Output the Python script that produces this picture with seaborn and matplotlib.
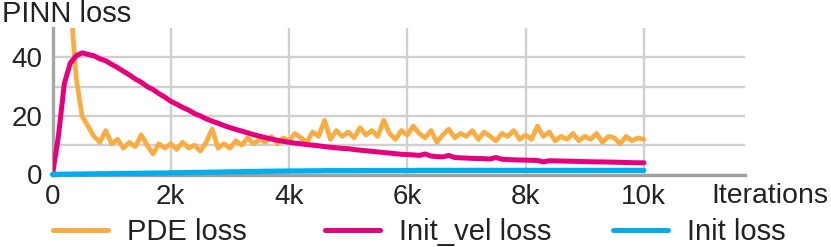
import numpy as np
import pandas as pd
import matplotlib
matplotlib.use("Agg")
import matplotlib.pyplot as plt
import seaborn as sns
from matplotlib.lines import Line2D

# ---------------- data ----------------
iterations = np.arange(0, 10001, 100)

pde_loss = [
    250, 150, 90, 60, 33, 20, 16.5, 13, 11, 15,
    10.5, 12, 9, 11, 9.5, 13.5, 10, 7, 10.5, 9,
    10.5, 8.5, 11, 9, 10, 8, 11, 15.5, 9, 10.5,
    9, 11.5, 10, 12.5, 10.5, 12, 11, 13, 10.5, 12.5,
    11.5, 14, 12.5, 11, 14.5, 13, 18.5, 12, 15, 13,
    14.5, 12.5, 16, 13.5, 15, 13, 18.5, 14, 12, 15,
    13.5, 16.5, 14, 12.5, 15, 11, 13.5, 15.5, 12.5, 14,
    13, 15, 12, 14.5, 13, 11.5, 14, 13, 15, 12,
    13.5, 12, 16.5, 13, 14.5, 11.5, 13, 12, 14, 11.5,
    13, 12, 14, 11, 13, 12.5, 10.5, 13, 11.5, 12.5,
    12,
]

init_vel_loss = [
    0, 13, 31, 38, 40.5, 41.5, 41, 40.5, 39.5, 38.8,
    37.6, 36.5, 35.2, 34.0, 32.6, 31.5, 30.0, 29.0, 27.6, 26.4,
    25.0, 24.0, 22.9, 22.0, 20.8, 20.0, 19.0, 18.2, 17.5, 16.7,
    16.0, 15.4, 14.8, 14.2, 13.6, 13.1, 12.6, 12.1, 11.7, 11.3,
    11.0, 10.7, 10.5, 10.2, 10.0, 9.8, 9.5, 9.3, 9.1, 8.9,
    8.8, 8.5, 8.3, 8.1, 7.9, 7.7, 7.5, 7.3, 7.1, 6.9,
    6.8, 6.7, 6.5, 7.0, 6.3, 6.1, 6.0, 6.5, 5.8, 5.7,
    5.6, 5.5, 5.45, 5.4, 5.3, 5.8, 5.2, 5.1, 5.0, 4.95,
    4.9, 4.85, 4.8, 4.3, 4.7, 4.65, 4.6, 4.55, 4.5, 4.45,
    4.4, 4.35, 4.3, 4.3, 4.25, 4.2, 4.15, 4.1, 4.05, 4.0,
    4.0,
]

init_loss = [
    0, 0.05, 0.1, 0.1, 0.15, 0.15, 0.2, 0.2, 0.25, 0.25,
    0.3, 0.3, 0.35, 0.35, 0.4, 0.4, 0.45, 0.45, 0.5, 0.5,
    0.55, 0.6, 0.6, 0.65, 0.7, 0.7, 0.75, 0.8, 0.8, 0.85,
    0.9, 0.9, 0.95, 1.0, 1.0, 1.05, 1.1, 1.1, 1.15, 1.15,
    1.2, 1.2, 1.2, 1.25, 1.25, 1.25, 1.3, 1.3, 1.3, 1.3,
    1.3, 1.3, 1.3, 1.35, 1.35, 1.35, 1.35, 1.35, 1.35, 1.35,
    1.35, 1.35, 1.4, 1.4, 1.4, 1.4, 1.4, 1.4, 1.4, 1.4,
    1.4, 1.4, 1.4, 1.4, 1.4, 1.4, 1.4, 1.4, 1.4, 1.4,
    1.4, 1.4, 1.4, 1.4, 1.4, 1.4, 1.4, 1.4, 1.4, 1.4,
    1.4, 1.4, 1.4, 1.4, 1.4, 1.4, 1.4, 1.4, 1.4, 1.4,
    1.4,
]

series_names = ["PDE loss", "Init_vel loss", "Init loss"]
series_colors = ["#F9AC42", "#E6007E", "#00AEEF"]
x_ticks = [0, 2000, 4000, 6000, 8000, 10000]
x_tick_labels = ["0", "2k", "4k", "6k", "8k", "10k"]
y_ticks = [0, 10, 20, 30, 40]
y_tick_labels = ["0", "", "20", "", "40"]

# ---------------- style ----------------
sns.set_style("white")
plt.rcParams["font.family"] = ["Liberation Sans", "DejaVu Sans"]

fig = plt.figure(figsize=(8.31, 2.47), dpi=100)
ax = fig.add_axes([52.5 / 831, 1 - 174.5 / 247, (745 - 52.5) / 831, (174.5 - 28) / 247])

df = pd.DataFrame({"iter": iterations, "PDE loss": pde_loss,
                   "Init_vel loss": init_vel_loss, "Init loss": init_loss})

lws = [3.4, 3.6, 3.8]
for name, col, lw in zip(series_names, series_colors, lws):
    sns.lineplot(data=df, x="iter", y=name, color=col, linewidth=lw, ax=ax,
                 estimator=None, zorder=3)

# blue line sits on the bottom spine, not clipped
ax.lines[2].set_clip_on(False)
ax.lines[2].set_zorder(5)

ax.set_xlim(0, 11710)
ax.set_ylim(0, 50)
ax.set_xticks(x_ticks)
ax.set_xticklabels(x_tick_labels)
ax.set_yticks(y_ticks)
ax.set_yticklabels(y_tick_labels)
ax.set_xlabel("")
ax.set_ylabel("")
ax.tick_params(axis="both", length=0, labelsize=20, colors="#222222", pad=7)

ax.grid(True, color="#d0d0d0", linewidth=1.7)
ax.set_axisbelow(True)
for s in ["top", "right"]:
    ax.spines[s].set_visible(False)
ax.spines["left"].set_color("#a6a6a6")
ax.spines["left"].set_linewidth(2.4)
ax.spines["bottom"].set_color("#a0a0a0")
ax.spines["bottom"].set_linewidth(2.4)
ax.spines["left"].set_zorder(2)
ax.spines["bottom"].set_zorder(2)

fig.text(2 / 831, 1 - 22 / 247, "PINN loss", fontsize=21, va="baseline", ha="left",
         color="#222222")
fig.text(711 / 831, 1 - 203 / 247, "Iterations", fontsize=20.5, va="baseline", ha="left",
         color="#222222")

# legend: three single-entry legends placed like the reference
leg_x = [53 / 831, 325 / 831, 613 / 831]
for name, col, lx in zip(series_names, series_colors, leg_x):
    h = Line2D([], [], color=col, linewidth=3.6)
    lg = fig.legend(handles=[h], labels=[name], loc="center left",
                    bbox_to_anchor=(lx, 1 - 232 / 247), frameon=False,
                    fontsize=21, handlelength=1.9, handletextpad=0.65,
                    borderpad=0, borderaxespad=0)
    for t in lg.get_texts():
        t.set_color("#222222")

fig.savefig("out.png", dpi=100)
